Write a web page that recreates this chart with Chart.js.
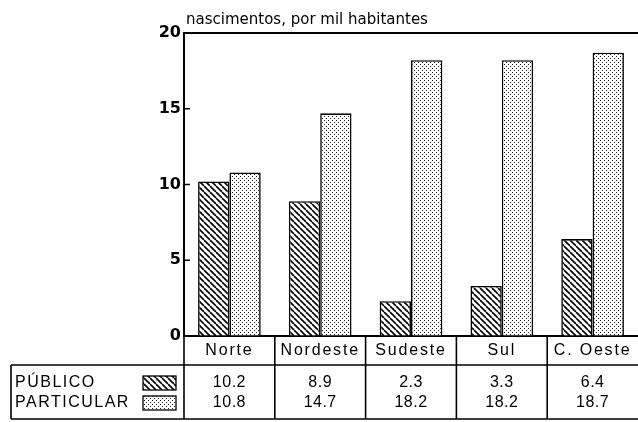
<!DOCTYPE html>
<html>
<head>
<meta charset="utf-8">
<script src="https://cdn.jsdelivr.net/npm/chart.js@4"></script>
<style>
  body { margin: 0; background: #fff; }
  #wrap { width: 638px; height: 422px; position: relative; }
</style>
</head>
<body>
<div id="wrap"><canvas id="chart"></canvas></div>
<script>
// data
const regioes = ["Norte", "Nordeste", "Sudeste", "Sul", "C. Oeste"];
const publico = [10.2, 8.9, 2.3, 3.3, 6.4];
const particular = [10.8, 14.7, 18.2, 18.2, 18.7];
const seriesNames = ["PÚBLICO", "PARTICULAR"];
const yTicks = [0, 5, 10, 15, 20];
const titulo = "nascimentos, por mil habitantes";

// fill patterns: hatch (\\\) and stipple
function hatchPattern() {
    const c = document.createElement("canvas");
    const s = 6;
    c.width = s; c.height = s;
    const g = c.getContext("2d");
    g.fillStyle = "#fff";
    g.fillRect(0, 0, s, s);
    g.strokeStyle = "#000";
    g.lineWidth = 1.6;
    for (let k = -1; k <= 1; k++) {
        g.beginPath();
        g.moveTo(k * s, 0);
        g.lineTo(k * s + s, s);
        g.stroke();
    }
    return g.createPattern(c, "repeat");
}

function dotPattern() {
    const c = document.createElement("canvas");
    c.width = 4; c.height = 4;
    const g = c.getContext("2d");
    g.fillStyle = "#fff";
    g.fillRect(0, 0, 4, 4);
    g.fillStyle = "#222";
    g.fillRect(0, 0, 1, 1);
    g.fillRect(2, 2, 1, 1);
    return g.createPattern(c, "repeat");
}

const ctx = document.getElementById("chart").getContext("2d");
const hatch = hatchPattern();
const dots = dotPattern();

const tableBottom = 419;
const legendLeft = 11;

// draws the frame, inner ticks, title and the value table under the chart
const tablePlugin = {
    id: "tablePlugin",
    afterDraw(chart) {
        const c = chart.ctx;
        const a = chart.chartArea;
        const x = chart.scales.x;
        const y = chart.scales.y;
        c.save();
        c.strokeStyle = "#000";
        c.fillStyle = "#000";

        // top frame line
        c.lineWidth = 2;
        c.beginPath();
        c.moveTo(a.left - 1, a.top);
        c.lineTo(a.right, a.top);
        c.stroke();

        // small ticks inside the left axis
        c.lineWidth = 1.5;
        yTicks.forEach(v => {
            if (v === 0 || v === 20) return;
            const py = y.getPixelForValue(v);
            c.beginPath();
            c.moveTo(a.left, py);
            c.lineTo(a.left + 6, py);
            c.stroke();
        });

        // title
        c.letterSpacing = "0px";
        c.font = "15px 'DejaVu Sans'";
        c.textAlign = "left";
        c.textBaseline = "alphabetic";
        c.fillText(titulo, a.left + 2, a.top - 9);

        // table lines
        const band = (a.right - a.left) / regioes.length;
        const headBottom = 365;
        c.lineWidth = 1.6;
        c.beginPath();
        c.moveTo(a.left, a.bottom);
        c.lineTo(a.left, tableBottom);
        for (let i = 1; i < regioes.length; i++) {
            const bx = a.left + i * band;
            c.moveTo(bx, a.bottom);
            c.lineTo(bx, tableBottom);
        }
        c.moveTo(legendLeft, headBottom);
        c.lineTo(a.right, headBottom);
        c.moveTo(legendLeft, tableBottom);
        c.lineTo(a.right, tableBottom);
        c.moveTo(legendLeft, headBottom);
        c.lineTo(legendLeft, tableBottom);
        c.stroke();

        // category names
        c.letterSpacing = "1.8px";
        c.font = "16px 'Liberation Sans'";
        c.textAlign = "center";
        c.textBaseline = "middle";
        regioes.forEach((r, i) => {
            c.fillText(r, x.getPixelForValue(i), 351);
        });

        // values
        c.letterSpacing = "0.5px";
        c.font = "16px 'Liberation Sans'";
        const rows = [383, 403];
        chart.data.datasets.forEach((ds, d) => {
            ds.data.forEach((v, i) => {
                c.fillText(v.toFixed(1), x.getPixelForValue(i), rows[d]);
            });
        });

        // legend cell
        c.letterSpacing = "1.5px";
        c.font = "16px 'Liberation Sans'";
        c.textAlign = "left";
        chart.data.datasets.forEach((ds, d) => {
            c.fillText(ds.label, 15, rows[d]);
            c.fillStyle = ds.backgroundColor;
            c.fillRect(143, rows[d] - 7, 33, 14);
            c.lineWidth = 1.3;
            c.strokeRect(143, rows[d] - 7, 33, 14);
            c.fillStyle = "#000";
        });
        c.restore();
    }
};

new Chart(ctx, {
    type: "bar",
    data: {
        labels: regioes,
        datasets: [{
            label: seriesNames[0],
            data: publico,
            backgroundColor: hatch,
            borderColor: "#000",
            borderWidth: 1.6
        }, {
            label: seriesNames[1],
            data: particular,
            backgroundColor: dots,
            borderColor: "#000",
            borderWidth: 1.6
        }]
    },
    options: {
        responsive: true,
        maintainAspectRatio: false,
        animation: false,
        layout: { padding: { top: 33, left: 0, right: 0, bottom: 0 } },
        datasets: {
            bar: { categoryPercentage: 0.69, barPercentage: 1.0 }
        },
        plugins: {
            legend: { display: false },
            tooltip: { enabled: false }
        },
        scales: {
            x: {
                ticks: { display: false },
                grid: { display: false },
                border: { display: true, color: "#000", width: 2 },
                afterFit: s => { s.height = 422 - 336; }
            },
            y: {
                min: 0,
                max: 20,
                afterBuildTicks: s => { s.ticks = yTicks.map(v => ({ value: v })); },
                ticks: {
                    color: "#000",
                    padding: 3,
                    font: { family: "'DejaVu Sans'", size: 16, weight: "bold" }
                },
                grid: { display: true, drawOnChartArea: false, drawTicks: false },
                border: { display: true, color: "#000", width: 2 },
                afterFit: s => { s.width = 184; }
            }
        }
    },
    plugins: [tablePlugin]
});
</script>
</body>
</html>
